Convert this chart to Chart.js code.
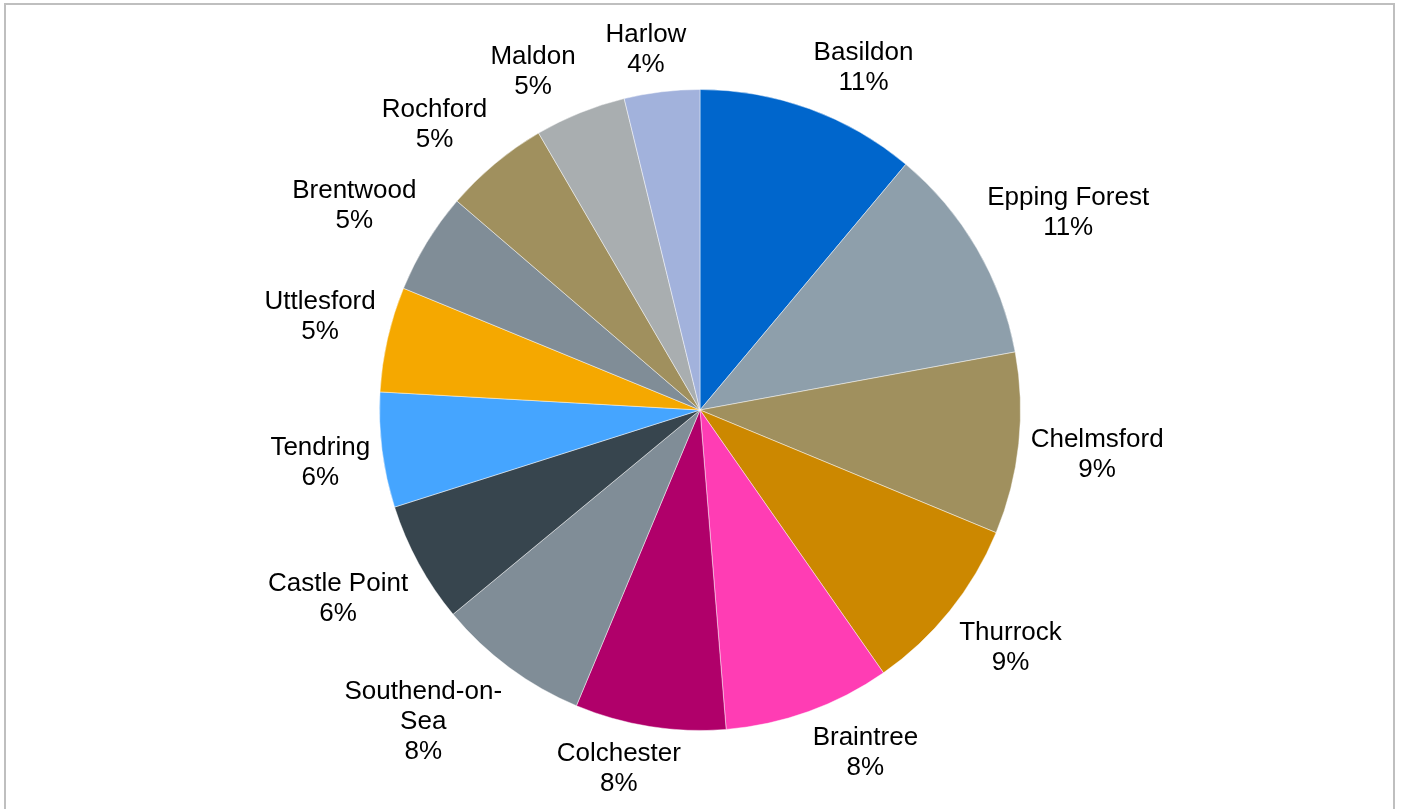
<!DOCTYPE html>
<html>
<head>
<meta charset="utf-8">
<script src="https://cdn.jsdelivr.net/npm/chart.js@4.4.0/dist/chart.umd.min.js"></script>
<style>
  html, body { margin: 0; padding: 0; background: #fff; overflow: hidden; }
  #frame {
    position: absolute; left: 4px; top: 3px; width: 1387px; height: 830px;
    border: 2px solid #BFBFBF;
  }
  #wrap { position: absolute; left: 0; top: 0; width: 1401px; height: 809px; }
</style>
</head>
<body>
<div id="frame"></div>
<div id="wrap"><canvas id="pie"></canvas></div>
<script>
// Essex districts, share of total
const districts = [
  'Basildon', 'Epping Forest', 'Chelmsford', 'Thurrock', 'Braintree',
  'Colchester', 'Southend-on-Sea', 'Castle Point', 'Tendring', 'Uttlesford',
  'Brentwood', 'Rochford', 'Maldon', 'Harlow'
];
const shares = [11.1, 11.0, 9.15, 9.05, 8.4, 7.6, 7.7, 6.1, 5.8, 5.3, 5.1, 5.3, 4.6, 3.8];
const colours = [
  '#0066CC', '#8E9FAB', '#A0905E', '#CC8800', '#FF3DB4',
  '#B0006A', '#808D97', '#37454E', '#45A5FF', '#F5A800',
  '#808D97', '#A0905E', '#A9AEB0', '#A2B2DC'
];

const FONT = '26px "Liberation Sans", Arial, sans-serif';
const LINE_H = 30;
const MAX_W = 175;
const GAP = 12;

// wrap a name at its last hyphen if it is too wide (Excel style)
function wrapName(ctx, name) {
  if (ctx.measureText(name).width <= MAX_W) return [name];
  const cut = name.lastIndexOf('-');
  if (cut > 0) return [name.slice(0, cut + 1), name.slice(cut + 1)];
  return [name];
}

const clamp = v => Math.max(-1, Math.min(1, v));

// outside-end labels: anchor just past the rim, box pushed away from the pie
const outsideLabels = {
  id: 'outsideLabels',
  afterDatasetsDraw(chart) {
    const { ctx } = chart;
    const meta = chart.getDatasetMeta(0);
    const total = shares.reduce((a, b) => a + b, 0);
    ctx.save();
    ctx.font = FONT;
    ctx.fillStyle = '#000';
    ctx.textAlign = 'center';
    ctx.textBaseline = 'middle';
    meta.data.forEach((arc, i) => {
      const mid = (arc.startAngle + arc.endAngle) / 2;
      const cx = Math.cos(mid), cy = Math.sin(mid);
      const lines = wrapName(ctx, districts[i]);
      lines.push(Math.round(shares[i] / total * 100) + '%');
      const w = Math.max(...lines.map(l => ctx.measureText(l).width));
      const h = lines.length * LINE_H;
      const r = arc.outerRadius + GAP;
      const x = arc.x + cx * r + clamp(cx * 3) * w / 2;
      const y = arc.y + cy * r + clamp(cy * 3) * h / 2;
      lines.forEach((l, k) => {
        ctx.fillText(l, x, y - h / 2 + LINE_H / 2 + k * LINE_H);
      });
    });
    ctx.restore();
  }
};

new Chart(document.getElementById('pie'), {
  type: 'pie',
  data: {
    labels: districts,
    datasets: [{
      data: shares,
      backgroundColor: colours,
      borderColor: 'rgba(255,255,255,0.45)',
      borderWidth: 1
    }]
  },
  options: {
    responsive: true,
    maintainAspectRatio: false,
    animation: false,
    layout: { padding: { top: 89, bottom: 78, left: 0, right: 1 } },
    plugins: {
      legend: { display: false },
      tooltip: { enabled: false }
    }
  },
  plugins: [outsideLabels]
});
</script>
</body>
</html>
